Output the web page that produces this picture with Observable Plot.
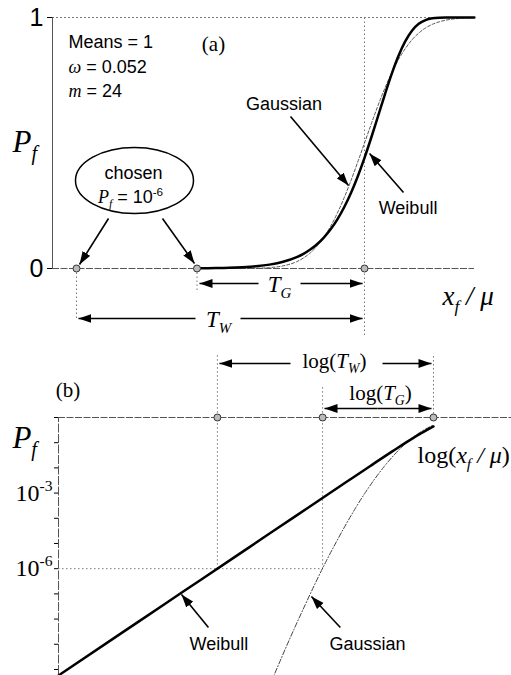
<!DOCTYPE html>
<html><head><meta charset="utf-8">
<script src="https://cdn.jsdelivr.net/npm/d3@7"></script>
<script src="https://cdn.jsdelivr.net/npm/@observablehq/plot@0.6"></script>
<style>html,body{margin:0;padding:0;background:#fff;overflow:hidden}#chart svg{display:block}</style>
</head><body><div id="chart"></div>
<script>
// ---------- data ----------
// panel (a): linear Pf vs x_f/mu
const weibullA_x = [0.753, 0.78, 0.80, 0.82, 0.84, 0.86, 0.88, 0.90, 0.91, 0.92, 0.93, 0.94, 0.95, 0.96, 0.97, 0.98, 0.99, 1.00, 1.01, 1.02, 1.03, 1.04, 1.05, 1.06, 1.07, 1.08, 1.09, 1.10, 1.11, 1.12, 1.14, 1.162];
const weibullA_p = [0.0006, 0.0015, 0.0027, 0.0050, 0.0088, 0.0155, 0.0267, 0.0453, 0.0586, 0.0755, 0.0968, 0.1233, 0.1561, 0.1960, 0.2441, 0.3009, 0.3667, 0.4408, 0.5219, 0.6073, 0.6932, 0.7746, 0.8466, 0.9050, 0.9476, 0.9749, 0.9899, 0.9967, 0.9992, 0.9999, 1.0, 1.0];
const gaussA_x = [0.753, 0.78, 0.80, 0.82, 0.84, 0.86, 0.88, 0.90, 0.91, 0.92, 0.93, 0.94, 0.95, 0.96, 0.97, 0.98, 0.99, 1.00, 1.01, 1.02, 1.03, 1.04, 1.05, 1.06, 1.07, 1.08, 1.09, 1.10, 1.11, 1.12, 1.14, 1.162];
const gaussA_p = [0.0000, 0.00001, 0.00006, 0.0003, 0.0011, 0.0036, 0.0105, 0.0272, 0.0417, 0.0620, 0.0891, 0.1243, 0.1681, 0.2209, 0.2820, 0.3501, 0.4238, 0.5000, 0.5762, 0.6499, 0.7180, 0.7791, 0.8319, 0.8757, 0.9109, 0.9380, 0.9583, 0.9728, 0.9826, 0.9895, 0.9965, 0.9992];
// panel (b): log-log
const weibullB_x = [0.3831, 0.45, 0.50, 0.55, 0.60, 0.65, 0.70, 0.75, 0.80, 0.85, 0.90, 0.95, 1.00];
const weibullB_p = [5.8e-11, 2.76e-9, 3.47e-8, 3.41e-7, 2.75e-6, 1.88e-5, 1.11e-4, 5.83e-4, 2.74e-3, 1.17e-2, 4.53e-2, 0.156, 0.441];
const gaussB_x = [0.66, 0.68, 0.70, 0.72, 0.74, 0.76, 0.78, 0.80, 0.82, 0.84, 0.86, 0.88, 0.90, 0.92, 0.94, 0.96, 0.98, 1.00];
const gaussB_p = [3.1e-11, 3.8e-10, 4.0e-9, 3.6e-8, 2.9e-7, 2.0e-6, 1.16e-5, 6.0e-5, 2.7e-4, 1.05e-3, 3.55e-3, 1.05e-2, 2.72e-2, 6.2e-2, 0.124, 0.221, 0.350, 0.500];
// chosen Pf = 1e-6 points (x_f/mu): Weibull, Gaussian, mean
const chosenX = [0.5753, 0.753, 1.0];
const yTicksA = [0, 1];
const yTicksB = [1, 1e-1, 1e-2, 1e-3, 1e-4, 1e-5, 1e-6, 1e-7, 1e-8, 1e-9, 1e-10];
const yLabelsB = [1e-3, 1e-6];
const yLabelTextB = ["10^{-3}", "10^{-6}"];

// ---------- styling ----------
const SANS = "Liberation Sans, Arial, Helvetica, sans-serif";
const SERIF = "Liberation Serif, Times New Roman, serif";
const xDomA = [0.5399, 1.1622];
const xDomB = [0.3831, 1.221];
const yDomB = [Math.pow(10, -10.2), 1];

const weibullA = weibullA_x.map((x, i) => ({x, p: weibullA_p[i]}));
const gaussA = gaussA_x.map((x, i) => ({x, p: gaussA_p[i]}));
const weibullB = weibullB_x.map((x, i) => ({x, p: weibullB_p[i]}));
const gaussB = gaussB_x.map((x, i) => ({x, p: gaussB_p[i]}));

// ellipse symbol for the "chosen" callout
const ellipseSymbol = {
  draw(ctx) {
    const rx = 59, ry = 33, k = 0.5523;
    ctx.moveTo(rx, 0);
    ctx.bezierCurveTo(rx, ry * k, rx * k, ry, 0, ry);
    ctx.bezierCurveTo(-rx * k, ry, -rx, ry * k, -rx, 0);
    ctx.bezierCurveTo(-rx, -ry * k, -rx * k, -ry, 0, -ry);
    ctx.bezierCurveTo(rx * k, -ry, rx, -ry * k, rx, 0);
    ctx.closePath();
  }
};

// annotation geometry (data units)
const dropsA = [
  {x: chosenX[0], y1: 0, y2: -0.207},
  {x: chosenX[1], y1: 0, y2: -0.0956},
  {x: chosenX[2], y1: 1, y2: -0.267}
];
const arrowsA = [
  {x1: 0.6225, y1: 0.1992, x2: 0.5797, y2: 0.0159},
  {x1: 0.7021, y1: 0.1992, x2: 0.7493, y2: 0.0199},
  {x1: 0.8909, y1: 0.6056, x2: 0.9764, y2: 0.3307},
  {x1: 1.0575, y1: 0.3028, x2: 1.0074, y2: 0.4582},
  {x1: 0.8437, y1: -0.0598, x2: 0.7567, y2: -0.0598},
  {x1: 0.9056, y1: -0.0598, x2: 0.9971, y2: -0.0598},
  {x1: 0.7508, y1: -0.1992, x2: 0.5782, y2: -0.1992},
  {x1: 0.8171, y1: -0.1992, x2: 0.9971, y2: -0.1992}
];
const dropsB = [
  {x: chosenX[0], y1: 1e-6, y2: 347},
  {x: chosenX[1], y1: 1e-6, y2: 18.6},
  {x: chosenX[2], y1: 1, y2: 347}
];
const arrowsB = [
  {x1: 0.6936, y1: 139, x2: 0.5783, y2: 139},
  {x1: 0.8777, y1: 139, x2: 0.9949, y2: 139},
  {x1: 0.8666, y1: 2.275, x2: 0.7567, y2: 2.275},
  {x1: 0.8666, y1: 2.275, x2: 0.9949, y2: 2.275},
  {x1: 0.5623, y1: 4.64e-9, x2: 0.5248, y2: 9.46e-8},
  {x1: 0.788, y1: 4.64e-9, x2: 0.7318, y2: 7.88e-8}
];

const T = (arr, opts) => Plot.text(arr, {x: "x", y: "y", text: "t", ...opts});

const plotA = Plot.plot({
  width: 511, height: 340,
  marginLeft: 52, marginRight: 37, marginTop: 17, marginBottom: 72,
  style: {fontFamily: SANS, background: "white", color: "black"},
  x: {domain: xDomA, axis: null},
  y: {domain: [0, 1]},
  marks: [
    Plot.ruleY([1], {x1: xDomA[0], x2: xDomA[1], stroke: "#777", strokeWidth: 1, strokeDasharray: "2,2"}),
    Plot.ruleY([0], {x1: xDomA[0], x2: xDomA[1], stroke: "#555", strokeWidth: 1, strokeDasharray: "7,1.5"}),
    Plot.ruleX([xDomA[0]], {y1: 0, y2: 1, stroke: "#555", strokeWidth: 1}),
    Plot.axisY({ticks: yTicksA, tickSize: 5, tickPadding: 4, fontSize: 25, label: null, tickFormat: d3.format("d")}),
    Plot.link(dropsA, {x1: "x", x2: "x", y1: "y1", y2: "y2", stroke: "#777", strokeWidth: 1, strokeDasharray: "1.5,2.5"}),
    Plot.line(gaussA, {x: "x", y: "p", stroke: "#555", strokeWidth: 1, strokeDasharray: "3,2", curve: "monotone-x"}),
    Plot.line(weibullA, {x: "x", y: "p", stroke: "black", strokeWidth: 2.5, curve: "monotone-x"}),
    Plot.dot(chosenX, {x: d => d, y: () => 0, r: 3.5, fill: "#bbb", stroke: "#333", strokeWidth: 1}),
    Plot.link(arrowsA, {x1: "x1", y1: "y1", x2: "x2", y2: "y2", stroke: "black", strokeWidth: 1.6, markerEnd: "arrow"}),
    Plot.dot([{x: 0.6608, y: 0.3506}], {x: "x", y: "y", symbol: ellipseSymbol, r: 10, fill: "none", stroke: "black", strokeWidth: 1.5}),
    T([{x: 0.5635, y: 0.8765, t: "Means = 1"}, {x: 0.5635, y: 0.7769, t: "$ω$ = 0.052"}, {x: 0.5635, y: 0.6813, t: "$m$ = 24"}],
      {textAnchor: "start", lineAnchor: "bottom", fontSize: 18, fill: "black"}),
    T([{x: 0.6594, y: 0.3546, t: "chosen"}, {x: 0.6549, y: 0.259, t: "$P$_{$f$} = 10^{-6}"},
       {x: 0.8813, y: 0.6295, t: "Gaussian"}, {x: 1.0642, y: 0.2191, t: "Weibull"}],
      {textAnchor: "middle", lineAnchor: "bottom", fontSize: 18, fill: "black"}),
    T([{x: 0.7773, y: 0.8685, t: "(a)"}], {textAnchor: "middle", lineAnchor: "bottom", fontSize: 21, fontFamily: SERIF, fill: "black"}),
    T([{x: 0.4809, y: 0.4622, t: "P_{f}"}], {textAnchor: "start", lineAnchor: "bottom", fontSize: 31, fontFamily: SERIF, fontStyle: "italic", fill: "black"}),
    T([{x: 0.8747, y: -0.0956, t: "T_{G}"}, {x: 0.7847, y: -0.235, t: "T_{W}"}],
      {textAnchor: "middle", lineAnchor: "bottom", fontSize: 23, fontFamily: SERIF, fontStyle: "italic", fill: "black"}),
    T([{x: 1.1150, y: -0.1474, t: "x_{f} / μ"}], {textAnchor: "start", lineAnchor: "bottom", fontSize: 27, fontFamily: SERIF, fontStyle: "italic", fill: "black"})
  ]
});

const plotB = Plot.plot({
  width: 511, height: 335,
  marginLeft: 58, marginRight: 0, marginTop: 77, marginBottom: 1,
  style: {fontFamily: SANS, background: "white", color: "black"},
  x: {type: "log", domain: xDomB, axis: null},
  y: {type: "log", domain: yDomB},
  marks: [
    Plot.ruleY([1], {x1: xDomB[0], x2: xDomB[1], stroke: "#555", strokeWidth: 1, strokeDasharray: "7,1.5"}),
    Plot.ruleX([xDomB[0]], {y1: yDomB[0], y2: 1, stroke: "#555", strokeWidth: 1, strokeDasharray: "9,1.5"}),
    Plot.axisY({ticks: yTicksB, tickSize: 4, tickFormat: () => "", label: null}),
    Plot.link(dropsB, {x1: "x", x2: "x", y1: "y1", y2: "y2", stroke: "#777", strokeWidth: 1, strokeDasharray: "1.5,2.5"}),
    Plot.ruleY([1e-6], {x1: xDomB[0], x2: chosenX[1], stroke: "#777", strokeWidth: 1, strokeDasharray: "1.5,2.5"}),
    Plot.line(gaussB, {x: "x", y: "p", stroke: "#444", strokeWidth: 1, strokeDasharray: "5,2,1,2", curve: "monotone-x"}),
    Plot.line(weibullB, {x: "x", y: "p", stroke: "black", strokeWidth: 2.5, curve: "monotone-x"}),
    Plot.dot(chosenX, {x: d => d, y: () => 1, r: 3.5, fill: "#bbb", stroke: "#333", strokeWidth: 1}),
    Plot.link(arrowsB, {x1: "x1", y1: "y1", x2: "x2", y2: "y2", stroke: "black", strokeWidth: 1.6, markerEnd: "arrow"}),
    Plot.text(yLabelsB, {x: () => xDomB[0], y: d => d, text: (d, i) => yLabelTextB[i], dx: -6, textAnchor: "end", lineAnchor: "middle", fontSize: 24, fontFamily: SERIF, fill: "black"}),
    T([{x: 0.3926, y: 6.8, t: "(b)"}], {textAnchor: "middle", lineAnchor: "bottom", fontSize: 21, fontFamily: SERIF, fill: "black"}),
    T([{x: 0.3405, y: 0.0589, t: "P_{f}"}], {textAnchor: "start", lineAnchor: "bottom", fontSize: 31, fontFamily: SERIF, fontStyle: "italic", fill: "black"}),
    T([{x: 0.7762, y: 96, t: "log($T$_{$W$})"}, {x: 0.8733, y: 5.18, t: "log($T$_{$G$})"}],
      {textAnchor: "middle", lineAnchor: "bottom", fontSize: 21, fontFamily: SERIF, fill: "black"}),
    T([{x: 0.9599, y: 0.01496, t: "log($x$_{$f$}$ / μ$)"}], {textAnchor: "start", lineAnchor: "bottom", fontSize: 24, fontFamily: SERIF, fill: "black"}),
    T([{x: 0.5776, y: 5.67e-10, t: "Weibull"}, {x: 0.8447, y: 5.67e-10, t: "Gaussian"}],
      {textAnchor: "middle", lineAnchor: "bottom", fontSize: 18, fill: "black"})
  ]
});

const host = document.getElementById("chart");
host.appendChild(plotA);
host.appendChild(plotB);

// filled arrowheads
for (const svg of [plotA, plotB]) {
  d3.select(svg).selectAll("marker").each(function () {
    const m = d3.select(this);
    m.attr("viewBox", "-13 -5 14 10").attr("markerWidth", 14).attr("markerHeight", 10)
     .attr("markerUnits", "userSpaceOnUse").attr("orient", "auto")
     .attr("fill", "black").attr("stroke", "none");
    m.selectAll("*").remove();
    m.append("path").attr("d", "M-13,-4.5L0,0L-13,4.5Z");
  });
}

// rich text: $..$ italic serif, _{..} subscript, ^{..} superscript
function rich(svg) {
  d3.select(svg).selectAll("text").each(function () {
    if (this.querySelector("tspan")) return;
    const src = this.textContent;
    if (!/[_^$]/.test(src)) return;
    const fs = parseFloat(getComputedStyle(this).fontSize) || 16;
    const segs = [];
    let italic = false;
    const push = (t, shift) => { if (t) segs.push({t, italic, shift}); };
    let buf = "", i = 0;
    while (i < src.length) {
      const c = src[i];
      if (c === "$") { push(buf, 0); buf = ""; italic = !italic; i++; }
      else if ((c === "_" || c === "^") && src[i + 1] === "{") {
        push(buf, 0); buf = "";
        const shift = c === "_" ? 1 : -1;
        const end = src.indexOf("}", i);
        let b2 = "";
        for (const ch of src.slice(i + 2, end)) {
          if (ch === "$") { push(b2, shift); b2 = ""; italic = !italic; }
          else b2 += ch;
        }
        push(b2, shift);
        i = end + 1;
      } else { buf += c; i++; }
    }
    push(buf, 0);
    this.textContent = "";
    let cur = 0;
    for (const s of segs) {
      const ts = d3.select(this).append("tspan").text(s.t);
      const target = s.shift === 1 ? 0.25 * fs : s.shift === -1 ? -0.42 * fs : 0;
      if (target !== cur) ts.attr("dy", target - cur);
      cur = target;
      if (s.shift) ts.attr("font-size", 0.65 * fs);
      if (s.italic) ts.attr("font-style", "italic").attr("font-family", SERIF);
    }
  });
}
rich(plotA);
rich(plotB);
</script></body></html>
